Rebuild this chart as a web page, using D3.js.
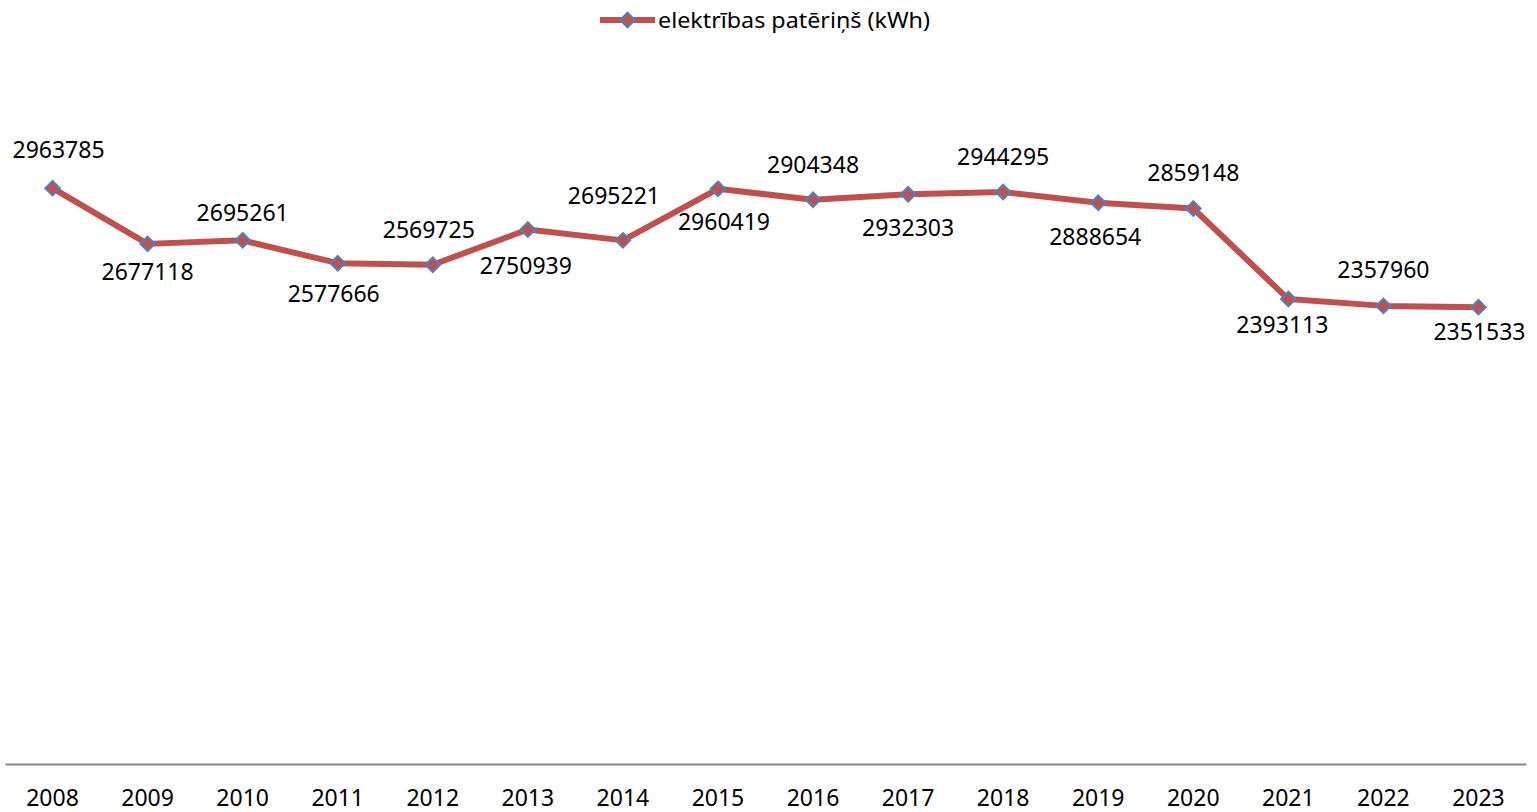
<!DOCTYPE html>
<html>
<head>
<meta charset="utf-8">
<script src="https://cdn.jsdelivr.net/npm/d3@7"></script>
<style>
  body { margin: 0; background: #fff; }
  svg text { font-family: "Noto Sans", "Open Sans", sans-serif; fill: #000; }
</style>
</head>
<body>
<svg id="chart" width="1537" height="812"></svg>
<script>
// data
var years = ["2008","2009","2010","2011","2012","2013","2014","2015",
             "2016","2017","2018","2019","2020","2021","2022","2023"];
var consumption = [2963785, 2677118, 2695261, 2577666, 2569725, 2750939, 2695221, 2960419,
                   2904348, 2932303, 2944295, 2888654, 2859148, 2393113, 2357960, 2351533];
var seriesName = "elektrības patēriņš (kWh)";

// label placement (px, relative to the marker)
var labelDx = [6, 0, 0, -4, -4, -2, -9, 6, 0, 0, 0, -3, 0, -6, 0, 1];
var labelDy = [-38, 28, -27, 31, -35, 36, -44, 33, -35, 34, -35, 34, -36, 26, -36, 25];

var lineColor = "#C0504D",
    markerStroke = "#4F81BD";

var svg = d3.select("#chart");

var x = d3.scaleBand()
    .domain(years)
    .range([5, 1526]);

var y = d3.scaleLinear()
    .domain([0, 3500000])
    .range([764, 84]);

// x axis
var xAxis = svg.append("g")
    .attr("transform", "translate(0," + y(0) + ")")
    .call(d3.axisBottom(x).tickSize(0).tickSizeOuter(0).tickPadding(26));
xAxis.select(".domain")
    .attr("stroke", "#888888")
    .attr("stroke-width", 2);
xAxis.selectAll("text")
    .attr("font-size", "23px")
    .attr("font-family", "'Noto Sans', 'Open Sans', sans-serif")
    .attr("fill", "#000");

var cx = function(d, i) { return x(years[i]) + x.bandwidth() / 2; };

// line
var line = d3.line()
    .x(function(d, i) { return cx(d, i); })
    .y(function(d) { return y(d); });

svg.append("path")
    .datum(consumption)
    .attr("d", line)
    .attr("fill", "none")
    .attr("stroke", lineColor)
    .attr("stroke-width", 6)
    .attr("stroke-linejoin", "round");

// markers
var diamond = d3.symbol().type(d3.symbolDiamond2).size(135);

svg.selectAll(".marker")
    .data(consumption)
    .enter().append("path")
      .attr("class", "marker")
      .attr("d", diamond)
      .attr("transform", function(d, i) { return "translate(" + cx(d, i) + "," + y(d) + ")"; })
      .attr("fill", lineColor)
      .attr("stroke", markerStroke)
      .attr("stroke-width", 2);

// data labels
svg.selectAll(".dlabel")
    .data(consumption)
    .enter().append("text")
      .attr("class", "dlabel")
      .attr("x", function(d, i) { return cx(d, i) + labelDx[i]; })
      .attr("y", function(d, i) { return y(d) + labelDy[i]; })
      .attr("dy", "0.35em")
      .attr("text-anchor", "middle")
      .attr("font-size", "23px")
      .text(function(d) { return d; });

// legend
var legend = svg.append("g").attr("transform", "translate(600,20)");
legend.append("line")
    .attr("x1", 0).attr("x2", 55)
    .attr("y1", 0).attr("y2", 0)
    .attr("stroke", lineColor)
    .attr("stroke-width", 6);
legend.append("path")
    .attr("d", diamond)
    .attr("transform", "translate(27.5,0)")
    .attr("fill", lineColor)
    .attr("stroke", markerStroke)
    .attr("stroke-width", 2);
legend.append("text")
    .attr("x", 58)
    .attr("y", 0)
    .attr("dy", "0.35em")
    .attr("font-size", "22px")
    .attr("textLength", 272)
    .attr("lengthAdjust", "spacingAndGlyphs")
    .text(seriesName);
</script>
</body>
</html>
